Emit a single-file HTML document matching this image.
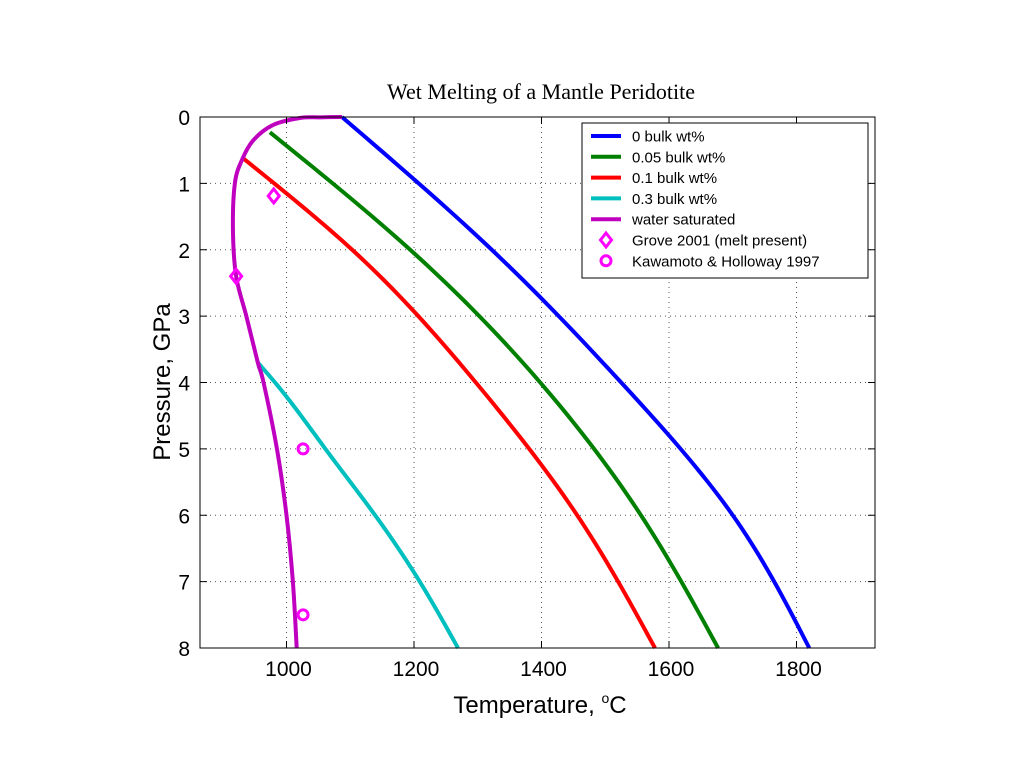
<!DOCTYPE html>
<html><head><meta charset="utf-8"><style>
html,body{margin:0;padding:0;background:#fff;}
svg{display:block;}
text{font-family:"Liberation Sans",sans-serif;fill:#000;}
</style></head><body>
<svg id="chart" width="1024" height="768">
<text x="541" y="99" text-anchor="middle" style="font-family:'Liberation Serif',serif;font-size:22px">Wet Melting of a Mantle Peridotite</text>
<g id="grid"></g>
<g id="series"></g>
<rect x="200" y="117" width="675" height="531" fill="none" stroke="#000" stroke-width="1"/>
<g id="ticks"></g>
<text x="540" y="713" text-anchor="middle" style="font-size:24px">Temperature, <tspan dy="-10" style="font-size:14px">o</tspan><tspan dy="10">C</tspan></text>
<text transform="translate(170,382) rotate(-90)" text-anchor="middle" style="font-size:24px">Pressure, GPa</text>
<g id="legend"></g>
</svg>
<script>
const xTicks=[1000,1200,1400,1600,1800];
const yTicks=[0,1,2,3,4,5,6,7,8];
const blueT=[1087,1322,1525,1700,1820];
const blueP=[0,2,4,6,8];
const greenT=[974,1194,1398,1556,1677];
const greenP=[0.23,2,4,6,8];
const redT=[933,1103,1297,1456,1578];
const redP=[0.63,2,4,6,8];
const cyanT=[955,982,1061,1139,1209,1269];
const cyanP=[3.7,4,5,6,7,8];
const wetT=[1087,1053,1021,979,948,930,919,916,921,937,955,964,985,1000,1010,1016];
const wetP=[0,0.005,0.015,0.12,0.35,0.65,1,1.7,2.4,3,3.7,4,5,6,7,8];
const groveT=[980,921];
const groveP=[1.19,2.4];
const kawT=[1026,1026];
const kawP=[5,7.5];
const legendLabels=["0 bulk wt%","0.05 bulk wt%","0.1 bulk wt%","0.3 bulk wt%","water saturated","Grove 2001 (melt present)","Kawamoto & Holloway 1997"];

const NS="http://www.w3.org/2000/svg";
const x=t=>286.5+(t-1000)*0.6375;
const y=p=>117+p*531/8;
function mk(tag,attrs,parent){const e=document.createElementNS(NS,tag);for(const k in attrs)e.setAttribute(k,attrs[k]);parent.appendChild(e);return e;}
const grid=document.getElementById('grid'),ticks=document.getElementById('ticks'),series=document.getElementById('series'),legend=document.getElementById('legend');
xTicks.forEach(t=>{
  const g=mk('line',{x1:x(t),x2:x(t),y1:117,y2:648,stroke:'#555','stroke-width':1,'stroke-dasharray':'1,4'},grid);
  
  
  mk('line',{x1:x(t),x2:x(t),y1:648,y2:641,stroke:'#000'},ticks);
  mk('line',{x1:x(t),x2:x(t),y1:117,y2:124,stroke:'#000'},ticks);
  const l=mk('text',{x:x(t)+2,y:676,'text-anchor':'middle','font-size':'21px'},ticks);
  l.textContent=t;
  
  
});
yTicks.forEach(p=>{
  const g=mk('line',{x1:200,x2:875,y1:y(p),y2:y(p),stroke:'#555','stroke-width':1,'stroke-dasharray':'1,4'},grid);
  
  
  mk('line',{x1:200,x2:207,y1:y(p),y2:y(p),stroke:'#000'},ticks);
  mk('line',{x1:875,x2:868,y1:y(p),y2:y(p),stroke:'#000'},ticks);
  const l=mk('text',{x:190,y:y(p)+8,'text-anchor':'end','font-size':'21px'},ticks);
  l.textContent=p;
  
  
});
// natural cubic spline T(P), sampled
function splinePath(T,P){
  const n=P.length;
  const h=[],al=[],l=[1],mu=[0],z=[0],c=new Array(n).fill(0),b=[],d=[];
  for(let i=0;i<n-1;i++)h.push(P[i+1]-P[i]);
  for(let i=1;i<n-1;i++)al[i]=3/h[i]*(T[i+1]-T[i])-3/h[i-1]*(T[i]-T[i-1]);
  for(let i=1;i<n-1;i++){l[i]=2*(P[i+1]-P[i-1])-h[i-1]*mu[i-1];mu[i]=h[i]/l[i];z[i]=(al[i]-h[i-1]*z[i-1])/l[i];}
  l[n-1]=1;z[n-1]=0;c[n-1]=0;
  for(let j=n-2;j>=0;j--){c[j]=z[j]-mu[j]*c[j+1];b[j]=(T[j+1]-T[j])/h[j]-h[j]*(c[j+1]+2*c[j])/3;d[j]=(c[j+1]-c[j])/(3*h[j]);}
  let s='';
  for(let j=0;j<n-1;j++){
    const steps=20;
    for(let k=(j==0?0:1);k<=steps;k++){
      const dp=h[j]*k/steps;
      const t=T[j]+b[j]*dp+c[j]*dp*dp+d[j]*dp*dp*dp;
      s+=(s?' L':'M')+x(t).toFixed(2)+','+y(P[j]+dp).toFixed(2);
    }
  }
  return s;
}
function crPath(T,P){
  const pts=T.map((t,i)=>[x(t),y(P[i])]);
  let d='M'+pts[0][0]+','+pts[0][1];
  for(let i=0;i<pts.length-1;i++){
    const p0=pts[Math.max(0,i-1)],p1=pts[i],p2=pts[i+1],p3=pts[Math.min(pts.length-1,i+2)];
    const c1=[p1[0]+(p2[0]-p0[0])/6,p1[1]+(p2[1]-p0[1])/6];
    const c2=[p2[0]-(p3[0]-p1[0])/6,p2[1]-(p3[1]-p1[1])/6];
    d+=` C${c1[0]},${c1[1]} ${c2[0]},${c2[1]} ${p2[0]},${p2[1]}`;
  }
  return d;
}
const sers=[[blueT,blueP,'#0000ff','curve-0-wt',splinePath],[greenT,greenP,'#008000','curve-005-wt',splinePath],[redT,redP,'#ff0000','curve-01-wt',splinePath],[cyanT,cyanP,'#00bfbf','curve-03-wt',splinePath],[wetT,wetP,'#bf00bf','curve-water-saturated',crPath]];
sers.forEach(s=>{
  const e=mk('path',{d:s[4](s[0],s[1]),fill:'none',stroke:s[2],'stroke-width':4,'stroke-linejoin':'round'},series);
  
  
});
groveT.forEach((t,i)=>{
  const cx=x(t),cy=y(groveP[i]);
  const e=mk('polygon',{points:`${cx},${cy-7} ${cx+5.5},${cy} ${cx},${cy+7} ${cx-5.5},${cy}`,fill:'none',stroke:'#ff00ff','stroke-width':3},series);
  
  
});
kawT.forEach((t,i)=>{
  const e=mk('circle',{cx:x(t),cy:y(kawP[i]),r:5,fill:'none',stroke:'#ff00ff','stroke-width':3},series);
  
  
});
const box=mk('rect',{x:582,y:123,width:286,height:155,fill:'#fff',stroke:'#000'},legend);


const cols=['#0000ff','#008000','#ff0000','#00bfbf','#bf00bf'];
legendLabels.forEach((lab,i)=>{
  const ry=136+i*20.8;
  if(i<5){mk('line',{x1:591,x2:621,y1:ry,y2:ry,stroke:cols[i],'stroke-width':4},legend);}
  else if(i==5){mk('polygon',{points:`606,${ry-7} 611.5,${ry} 606,${ry+7} 600.5,${ry}`,fill:'none',stroke:'#ff00ff','stroke-width':3},legend);}
  else{mk('circle',{cx:606,cy:ry,r:5,fill:'none',stroke:'#ff00ff','stroke-width':3},legend);}
  const tx=mk('text',{x:632,y:ry+5.5,'font-size':'15px'},legend);
  tx.textContent=lab;
  
  
});
</script>
</body></html>
